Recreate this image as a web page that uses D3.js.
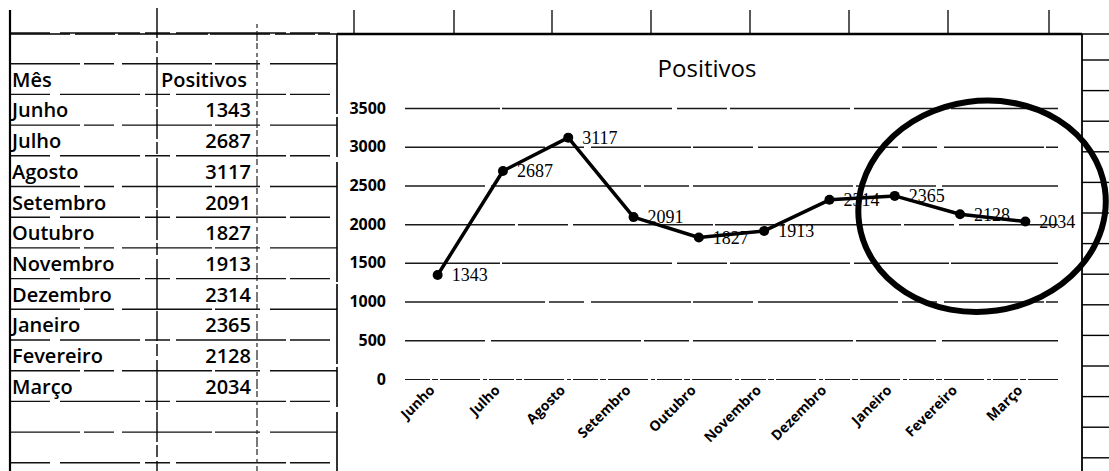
<!doctype html>
<html>
<head>
<meta charset="utf-8">
<script src="https://d3js.org/d3.v7.min.js"></script>
<style>
  body{margin:0;background:#fff;}
  svg{display:block;}
  .cell{font-family:"Open Sans",sans-serif;font-weight:600;font-size:20px;fill:#000;}
  .ytick text{font-family:"Open Sans",sans-serif;font-weight:700;font-size:16px;fill:#000;}
  .xlab{font-family:"Open Sans",sans-serif;font-weight:700;font-size:14px;fill:#000;}
  .vlab{font-family:"Liberation Serif",serif;font-size:18px;fill:#000;}
</style>
</head>
<body>
<svg id="chart" width="1109" height="471"></svg>
<script>
// dados
var meses = ["Junho","Julho","Agosto","Setembro","Outubro","Novembro","Dezembro","Janeiro","Fevereiro","Março"];
var positivos = [1343,2687,3117,2091,1827,1913,2314,2365,2128,2034];
var yTicks = [0,500,1000,1500,2000,2500,3000,3500];
var cabecalho = ["Mês","Positivos"];
var titulo = "Positivos";

var svg = d3.select('#chart');
var W = 1109, H = 471;

// scanned-looking dash patterns
var dashes = ["110 3 50 5 140 2 70 6","80 6 150 3 45 4 160 3","140 4 35 7 100 2 60 5","95 2 170 5 50 3 120 4"];

// ---------- spreadsheet grid ----------
var rowH = 30.7, top0 = 33;
var grid = svg.append('g');
for (var r = 0; r <= 14; r++){
  grid.append('line').attr('x1',10).attr('x2',337)
    .attr('y1',top0 + r*rowH).attr('y2',top0 + r*rowH)
    .attr('stroke','#111').attr('stroke-width',1.4)
    .attr('stroke-dasharray',r % 2 ? '70 4 30 8 90 3 45 10' : '40 10 80 5 25 6 110 4');
}
grid.append('line').attr('x1',10).attr('x2',10).attr('y1',10).attr('y2',H)
  .attr('stroke','#000').attr('stroke-width',2.2);
grid.append('line').attr('x1',157).attr('x2',157).attr('y1',8).attr('y2',H)
  .attr('stroke','#000').attr('stroke-width',1.4).attr('stroke-dasharray','30 3 12 4 50 2');
grid.append('line').attr('x1',257).attr('x2',257).attr('y1',24).attr('y2',H)
  .attr('stroke','#222').attr('stroke-width',1.2).attr('stroke-dasharray','4 3 10 2 6 4');
[354,454,552,651,750,849,948,1049].forEach(function(cx){
  grid.append('line').attr('x1',cx).attr('x2',cx).attr('y1',10).attr('y2',34)
    .attr('stroke','#000').attr('stroke-width',1.3);
});
grid.append('line').attr('x1',10).attr('x2',W).attr('y1',34).attr('y2',34)
  .attr('stroke','#000').attr('stroke-width',1.4).attr('stroke-dasharray','60 5 40 3 90 2');
grid.append('line').attr('x1',337).attr('x2',1082).attr('y1',34).attr('y2',34)
  .attr('stroke','#000').attr('stroke-width',2.4);
grid.append('line').attr('x1',337).attr('x2',337).attr('y1',34).attr('y2',H)
  .attr('stroke','#000').attr('stroke-width',1.6).attr('stroke-dasharray','80 3 40 5 120 2');
grid.append('line').attr('x1',1082).attr('x2',1082).attr('y1',34).attr('y2',H)
  .attr('stroke','#000').attr('stroke-width',1.8);
for (var k = 0; k < 14; k++){
  grid.append('line').attr('x1',1082).attr('x2',W)
    .attr('y1',60 + k*30.6).attr('y2',60 + k*30.6)
    .attr('stroke','#000').attr('stroke-width',1.4);
}

// table text
var tabela = svg.append('g');
tabela.append('text').attr('class','cell').attr('x',12).attr('y',top0 + rowH + 23).text(cabecalho[0]);
tabela.append('text').attr('class','cell').attr('x',161).attr('y',top0 + rowH + 23).text(cabecalho[1]);
tabela.selectAll('text.mes').data(meses).enter()
  .append('text').attr('class','cell mes')
  .attr('x',12).attr('y',(d,i)=>top0 + (i+2)*rowH + 23).text(d=>d);
tabela.selectAll('text.val').data(positivos).enter()
  .append('text').attr('class','cell val')
  .attr('x',251).attr('y',(d,i)=>top0 + (i+2)*rowH + 23)
  .attr('text-anchor','end').text(d=>d);

// ---------- chart ----------
var xScale = d3.scaleBand().domain(meses).range([405,1058]).padding(0);
var yScale = d3.scaleLinear().domain([0,3500]).range([379,108]);
var bw = xScale.bandwidth();

svg.append('text').attr('x',707).attr('y',77).attr('text-anchor','middle')
  .style('font-family','"Open Sans",sans-serif').style('font-size','24px')
  .text(titulo);

var yAxis = d3.axisLeft(yScale).tickValues(yTicks)
  .tickSize(-(1058-405)).tickPadding(19).tickFormat(d3.format('d'));
var yG = svg.append('g').attr('transform','translate(405,0)').call(yAxis);
yG.select('.domain').remove();
yG.selectAll('.tick').attr('class','tick ytick');
yG.selectAll('.tick line')
  .attr('stroke','#1a1a1a').attr('stroke-width',(d)=>d === 0 ? 1.1 : 1.5)
  .attr('stroke-dasharray',(d,i)=>d === 0 ? '25 2 6 2 40 3 4 2' : dashes[i % dashes.length]);

// x labels
var xAxis = d3.axisBottom(xScale).tickSize(0).tickPadding(0);
var xG = svg.append('g').attr('transform','translate(0,379)').call(xAxis);
xG.select('.domain').remove();
xG.selectAll('.tick text')
  .attr('class','xlab')
  .attr('text-anchor','end')
  .attr('y',0).attr('dy',0)
  .attr('transform','translate(-2,12) rotate(-45)');

// line
var pts = meses.map((m,i)=>({m:m, v:positivos[i]}));
var line = d3.line().x(d=>xScale(d.m)+bw/2).y(d=>yScale(d.v));
svg.append('path').datum(pts).attr('d',line)
  .attr('fill','none').attr('stroke','#000').attr('stroke-width',3.5)
  .attr('stroke-linejoin','round');
svg.selectAll('circle.pt').data(pts).enter()
  .append('circle').attr('class','pt').attr('r',5)
  .attr('cx',d=>xScale(d.m)+bw/2).attr('cy',d=>yScale(d.v)).attr('fill','#000');
svg.selectAll('text.vlab').data(pts).enter()
  .append('text').attr('class','vlab')
  .attr('x',d=>xScale(d.m)+bw/2+14).attr('y',d=>yScale(d.v))
  .attr('dy','0.35em').text(d=>d.v);

// hand-drawn circle around the last three months
var ultimos = pts.slice(-3);
var ex = d3.mean(ultimos, d=>xScale(d.m)+bw/2) + 22;
var ey = yScale(d3.mean(ultimos, d=>d.v) + 55);
svg.append('ellipse')
  .attr('cx',ex).attr('cy',ey)
  .attr('rx',bw*1.9).attr('ry',yScale(0)-yScale(1360))
  .attr('transform','rotate(-8,'+ex+','+ey+')')
  .attr('fill','none').attr('stroke','#000').attr('stroke-width',6);
</script>
</body>
</html>
